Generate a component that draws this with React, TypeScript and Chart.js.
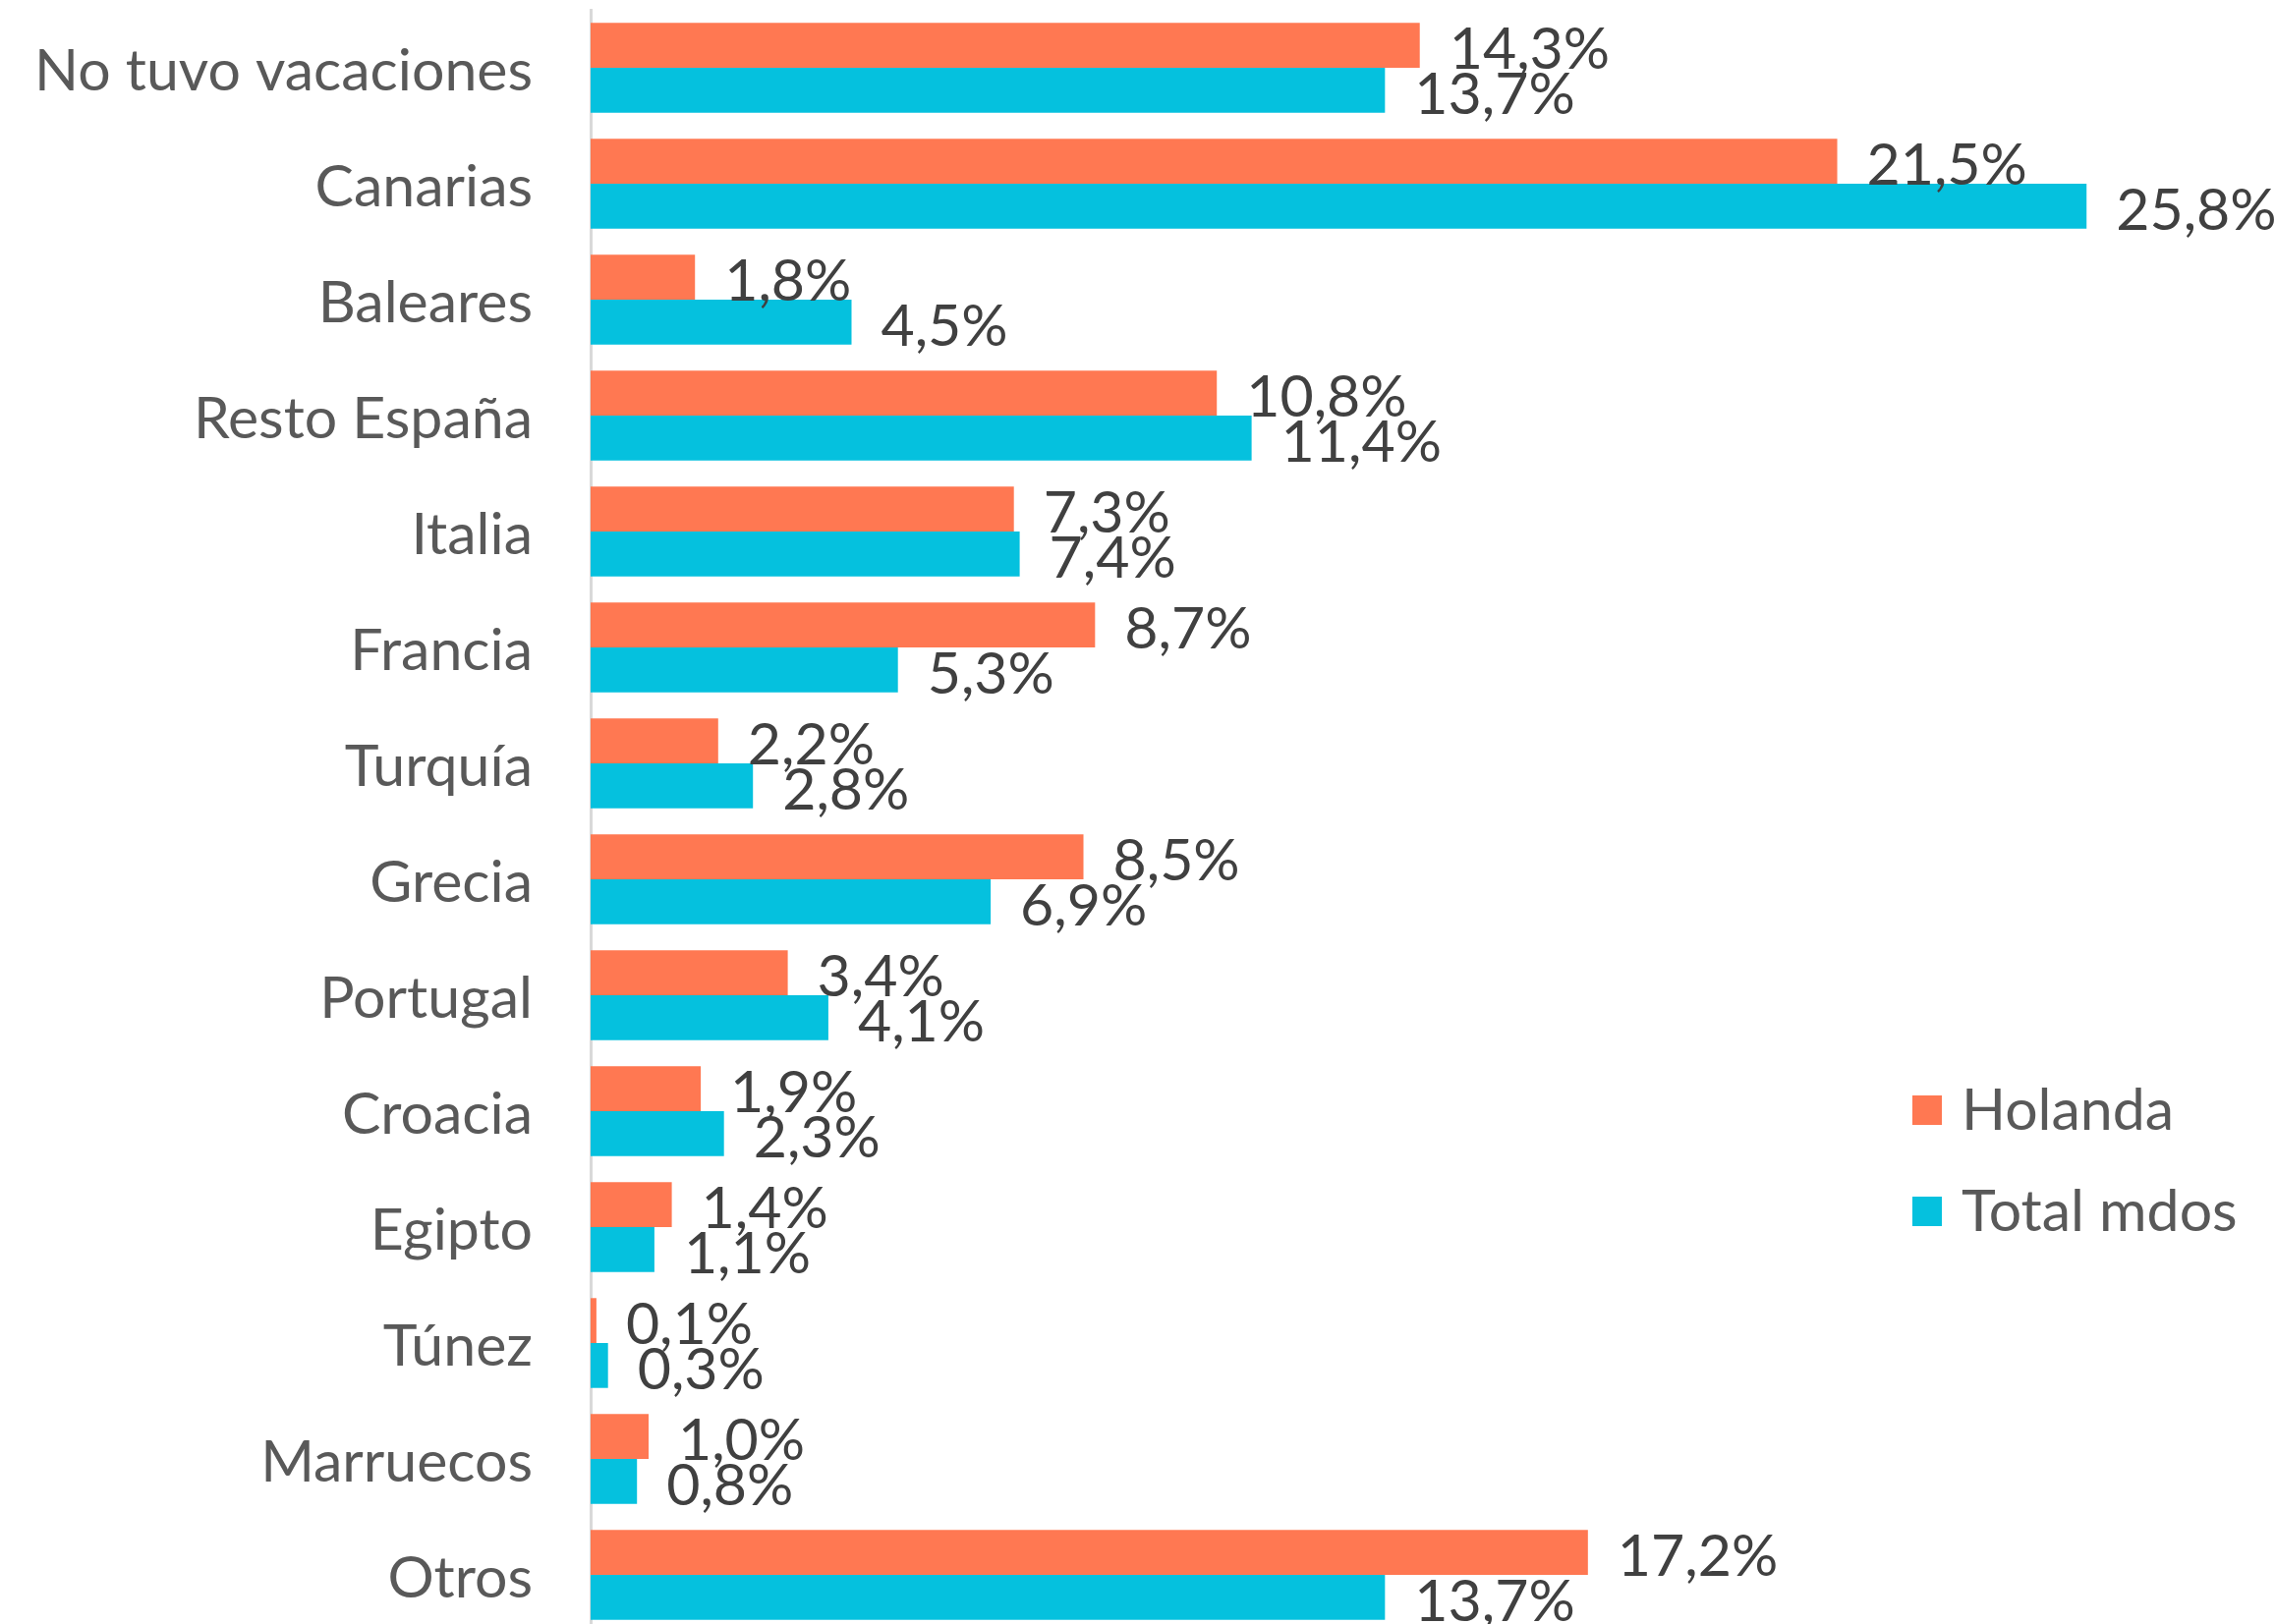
import React, { useEffect, useRef } from "react";
import { Chart, registerables } from "chart.js";

Chart.register(...registerables);

const categories = [
  "No tuvo vacaciones",
  "Canarias",
  "Baleares",
  "Resto España",
  "Italia",
  "Francia",
  "Turquía",
  "Grecia",
  "Portugal",
  "Croacia",
  "Egipto",
  "Túnez",
  "Marruecos",
  "Otros",
];
const seriesNames = ["Holanda", "Total mdos"];
const holanda = [14.3, 21.5, 1.8, 10.8, 7.3, 8.7, 2.2, 8.5, 3.4, 1.9, 1.4, 0.1, 1.0, 17.2];
const totalMdos = [13.7, 25.8, 4.5, 11.4, 7.4, 5.3, 2.8, 6.9, 4.1, 2.3, 1.1, 0.3, 0.8, 13.7];
const seriesColors = ["#FF7852", "#05C1DE"];

const FONT_FAMILY = "Lato, Carlito, Calibri, sans-serif";
const FONT_SIZE = 59;

const fmt = (v: number) => v.toFixed(1).replace(".", ",") + "%";

const valueLabels = {
  id: "valueLabels",
  afterDatasetsDraw(chart: any) {
    const ctx = chart.ctx;
    ctx.save();
    ctx.font = `${FONT_SIZE}px ${FONT_FAMILY}`;
    ctx.fillStyle = "#404040";
    ctx.textAlign = "left";
    ctx.textBaseline = "middle";
    chart.data.datasets.forEach((ds: any, di: number) => {
      const meta = chart.getDatasetMeta(di);
      meta.data.forEach((bar: any, i: number) => {
        ctx.fillText(fmt(ds.data[i]), bar.x + 30, bar.y + 5);
      });
    });
    ctx.restore();
  },
};

const customLegend = {
  id: "customLegend",
  afterDraw(chart: any) {
    const ctx = chart.ctx;
    ctx.save();
    ctx.font = `${FONT_SIZE}px ${FONT_FAMILY}`;
    ctx.textAlign = "left";
    ctx.textBaseline = "middle";
    const x0 = 1946;
    const ys = [1130, 1233];
    chart.data.datasets.forEach((ds: any, di: number) => {
      const y = ys[di];
      ctx.fillStyle = ds.backgroundColor;
      ctx.fillRect(x0, y - 15, 30, 30);
      ctx.fillStyle = "#595959";
      ctx.fillText(ds.label, x0 + 50, y + 1);
    });
    ctx.restore();
  },
};

export default function App() {
  const ref = useRef<HTMLCanvasElement | null>(null);

  useEffect(() => {
    if (!ref.current) return;
    const chart = new Chart(ref.current, {
      type: "bar",
      data: {
        labels: categories,
        datasets: [
          { label: seriesNames[0], data: holanda, backgroundColor: seriesColors[0] },
          { label: seriesNames[1], data: totalMdos, backgroundColor: seriesColors[1] },
        ],
      },
      options: {
        indexAxis: "y",
        responsive: false,
        animation: false,
        devicePixelRatio: 1,
        layout: { padding: { top: 10, bottom: 2, left: 0, right: 0 } },
        datasets: {
          bar: { categoryPercentage: 0.775, barPercentage: 1.0 },
        },
        plugins: {
          legend: { display: false },
          tooltip: { enabled: false },
        },
        scales: {
          x: {
            display: false,
            min: 0,
            max: 29.05,
          },
          y: {
            grid: { display: false, drawTicks: false },
            border: { display: true, color: "#D9D9D9", width: 3 },
            ticks: {
              autoSkip: false,
              padding: 59,
              labelOffset: 4,
              color: "#595959",
              font: { family: FONT_FAMILY, size: FONT_SIZE },
            },
            afterFit(scale: any) {
              scale.width = 601;
              scale.paddingTop = 0;
              scale.paddingBottom = 0;
            },
          },
        },
      },
      plugins: [valueLabels, customLegend],
    } as any);
    return () => chart.destroy();
  }, []);

  return (
    <div
      style={{
        position: "fixed",
        left: 0,
        top: 0,
        width: 2315,
        height: 1653,
        overflow: "hidden",
        background: "#ffffff",
      }}
    >
      <canvas ref={ref} width={2315} height={1664} style={{ display: "block" }} />
    </div>
  );
}
